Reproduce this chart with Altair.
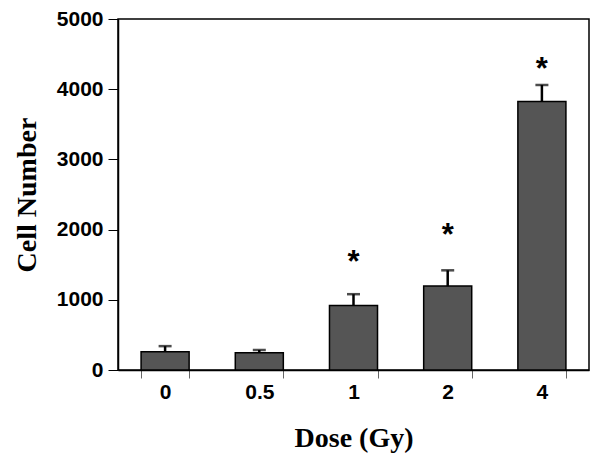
import altair as alt
import pandas as pd

doses = ["0", "0.5", "1", "2", "4"]
means = [260, 245, 920, 1195, 3825]
upper = [340, 285, 1080, 1420, 4060]
stars = ["", "", "*", "*", "*"]
star_y = [None, None, 1530, 1910, 4280]

df = pd.DataFrame({"dose": doses, "mean": means, "upper": upper})
sdf = pd.DataFrame({"dose": [d for d, s in zip(doses, stars) if s],
                    "y": [y for y, s in zip(star_y, stars) if s],
                    "label": [s for s in stars if s]})

xs = alt.Scale(paddingInner=0.49, paddingOuter=0.245)
x = alt.X("dose:N", sort=doses, title="Dose (Gy)", scale=xs,
          axis=alt.Axis(labelAngle=0, tickBand="extent", tickColor="#666",
                        tickSize=8, labelPadding=3, titlePadding=22))
y_scale = alt.Scale(domain=[0, 5000])
y_axis = alt.Axis(values=[0, 1000, 2000, 3000, 4000, 5000], grid=False, format="d",
                  tickColor="black", tickSize=10, labelPadding=5, titlePadding=15)

bars = alt.Chart(df).mark_bar(color="#555555", stroke="black", strokeWidth=1.5).encode(
    x=x, y=alt.Y("mean:Q", scale=y_scale, axis=y_axis, title="Cell Number"))
err = alt.Chart(df).mark_rule(color="black", strokeWidth=2.5).encode(
    x=alt.X("dose:N", sort=doses), y="mean:Q", y2="upper:Q")
cap = alt.Chart(df).mark_tick(color="black", thickness=2.5, size=13, orient="horizontal").encode(
    x=alt.X("dose:N", sort=doses), y="upper:Q")
star = alt.Chart(sdf).mark_text(font="Liberation Sans", fontSize=31, fontWeight="bold",
                                color="black", baseline="middle").encode(
    x=alt.X("dose:N", sort=doses), y="y:Q", text="label:N")

chart = alt.layer(bars, err, cap, star).properties(
    width=471, height=351, background="white",
    autosize=alt.AutoSizeParams(type="none"),
    padding={"left": 110, "top": 11, "right": 3, "bottom": 83},
).configure_view(stroke="black", strokeWidth=1.5).configure_axis(
    labelFont="Liberation Sans", labelFontWeight="bold", labelFontSize=21,
    labelColor="black", titleFont="Liberation Serif", titleFontWeight="bold",
    titleFontSize=28, titleColor="black", domainColor="black", domainWidth=1.5,
)

chart.save("out.html", embed_options={"renderer": "svg", "actions": False})
